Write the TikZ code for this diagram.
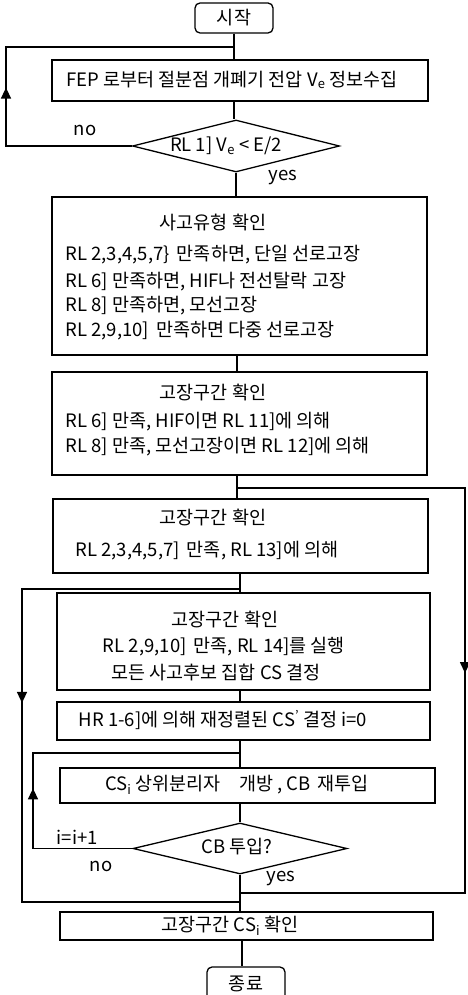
\documentclass[tikz,border=0pt]{standalone}
\usepackage{fontspec}
\setmainfont{Noto Sans CJK KR}
\usetikzlibrary{shapes.geometric,arrows.meta,calc}
\newcommand{\fsz}{\fontsize{18.5}{21}\selectfont}
\begin{document}
\begin{tikzpicture}[x=1pt,y=-1pt,line width=1.3pt,
  box/.style={draw,rectangle,inner sep=0pt,font=\fsz},
  term/.style={draw,rectangle,rounded corners=5pt,inner sep=0pt,font=\fsz,minimum width=78pt,minimum height=30pt},
  dia/.style={draw,diamond,inner sep=0pt},
  txt/.style={inner sep=0pt,font=\fsz},
  lbl/.style={inner sep=0pt,font=\fsz},
  arr/.style={-{Triangle[length=11pt,width=10pt]}}]
\useasboundingbox (0,0) rectangle (468,995);
\clip (0,0) rectangle (468,995);

% nodes
\node[term] (start) at (234,18) {시작};
\node[box,minimum width=376pt,minimum height=41pt] (fep) at (240,80.5) {};
\node[txt] at (232,80) {FEP 로부터 절분점 개폐기 전압 V\textsubscript{e} 정보수집};
\node[dia,minimum width=207pt,minimum height=52pt] (d1) at (236,146) {};
\node[txt] at (226,146) {RL 1] V\textsubscript{e} < E/2};

\node[box,minimum width=375pt,minimum height=158pt] (b3) at (239.5,276) {};
\node[txt] at (213,222) {사고유형 확인};
\node[txt,anchor=west] at (65,255) {RL 2,3,4,5,7\}\,\ 만족하면, 단일 선로고장};
\node[txt,anchor=west] at (65,282) {RL 6] 만족하면, HIF나 전선탈락 고장};
\node[txt,anchor=west] at (65,306) {RL 8] 만족하면, 모선고장};
\node[txt,anchor=west] at (65,331) {RL 2,9,10]\,\ 만족하면 다중 선로고장};

\node[box,minimum width=375pt,minimum height=103pt] (b4) at (239.5,423.5) {};
\node[txt] at (213,393) {고장구간 확인};
\node[txt,anchor=west] at (65,422) {RL 6] 만족, HIF이면 RL 11]에 의해};
\node[txt,anchor=west] at (65,447) {RL 8] 만족, 모선고장이면 RL 12]에 의해};

\node[box,minimum width=375pt,minimum height=74pt] (b5) at (240.5,536) {};
\node[txt] at (213,518) {고장구간 확인};
\node[txt,anchor=west] at (75,551) {RL 2,3,4,5,7]\,\ 만족, RL 13]에 의해};

\node[box,minimum width=373pt,minimum height=97pt] (b6) at (243.5,641.5) {};
\node[txt] at (225,620) {고장구간 확인};
\node[txt] at (224,647) {RL 2,9,10]\,\ 만족, RL 14]를 실행};
\node[txt] at (216,672) {모든 사고후보 집합 CS 결정};

\node[box,minimum width=373pt,minimum height=38pt] (b7) at (243.5,721) {};
\node[txt] at (223,720) {HR 1-6]에 의해 재정렬된 CS\textsuperscript{'} 결정 i=0};

\node[box,minimum width=375pt,minimum height=35pt] (b8) at (247.5,785.5) {};
\node[txt] at (237,785) {CS\textsubscript{i} 상위분리자\quad 개방 , CB\, 재투입};

\node[dia,minimum width=214pt,minimum height=51pt] (d2) at (240,848.5) {};
\node[txt] at (237,847) {CB 투입?};

\node[box,minimum width=373pt,minimum height=28pt] (b9) at (246.5,926) {};
\node[txt] at (230,926) {고장구간 CS\textsubscript{i} 확인};

\node[term,minimum height=34pt] (end) at (246,984) {종료};

% labels
\node[lbl] at (85,130) {no};
\node[lbl] at (283,178) {yes};
\node[lbl,anchor=west] at (56,837) {i=i+1};
\node[lbl] at (101,866) {no};
\node[lbl] at (281,879) {yes};

% coordinates
\coordinate (L1) at (6,47);
\coordinate (j1) at (237,488);
\coordinate (R1) at (465,488);
\coordinate (j5) at (241,893);
\coordinate (j2) at (240,589);
\coordinate (L2) at (22,589);
\coordinate (j6) at (241,902);
\coordinate (j3) at (240,753);
\coordinate (L3) at (33,753);
\coordinate (j7) at (242,0);

% trunk
\draw (start.south) -- (start.south |- fep.north);
\draw (fep.south -| start.south) -- (d1.north -| start.south);
\draw (d1.south) -- (d1.south |- b3.north);
\draw (b3.south -| j1) -- (b4.north -| j1);
\draw (b4.south -| j1) -- (b5.north -| j1);
\draw (b5.south -| j2) -- (b6.north -| j2);
\draw (b6.south -| j2) -- (b7.north -| j2);
\draw (b7.south -| j2) -- (b8.north -| j2);
\draw (b8.south -| j2) -- (d2.north -| j2);
\draw (d2.south) -- (d2.south |- b9.north);
\draw (b9.south -| j7) -- (end.north -| j7);

% loop 1 (no)
\draw (d1.west) -- (d1.west -| L1) -- (L1) -- (L1 -| start.south);
\draw[arr] (d1.west -| L1) -- ($(d1.west -| L1)!0.59!(L1)$);

% right bypass
\draw (j1) -- (R1) -- (R1 |- j5) -- (j5);
\draw[arr] (R1) -- ($(R1)!0.457!(R1 |- j5)$);

% left bypass
\draw (j2) -- (L2) -- (L2 |- j6) -- (j6);
\draw[arr] (L2) -- ($(L2)!0.364!(L2 |- j6)$);

% loop 2 (no)
\draw (d2.west) -- (d2.west -| L3) -- (L3) -- (j3);
\draw[arr] (d2.west -| L3) -- ($(d2.west -| L3)!0.63!(L3)$);
\end{tikzpicture}
\end{document}
